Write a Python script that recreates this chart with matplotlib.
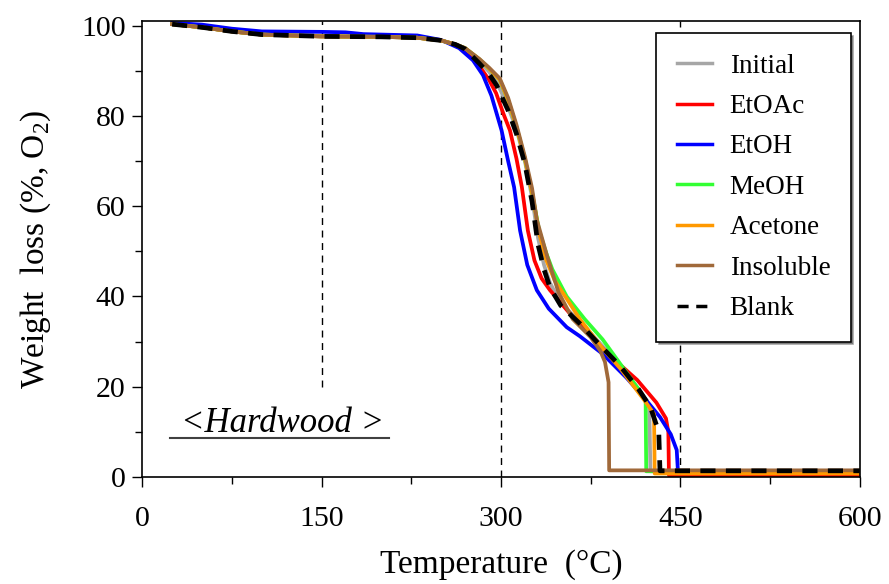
import numpy as np
import matplotlib
matplotlib.use('Agg')
import matplotlib.pyplot as plt

plt.rcParams['font.family'] = 'Liberation Serif'
plt.rcParams['mathtext.fontset'] = 'custom'
plt.rcParams['mathtext.rm'] = 'Liberation Serif'

# shared early part of the curves (drying stage)
x_start = [25, 50, 75, 100, 150, 200, 230, 250, 262]
y_start = [100.3, 99.6, 98.7, 98.0, 97.6, 97.5, 97.3, 96.7, 95.8]

# temperatures (C) and weight (%) per sample
x_initial = x_start + [270, 282, 290, 297, 306, 313, 320, 326, 331, 336, 341, 350, 366,
                       385, 400, 415, 424, 425, 600]
y_initial = y_start + [95.0, 92.0, 89.8, 87.2, 82.0, 77.0, 70.0, 62.0, 53.0, 47.0, 43.0,
                       38.5, 34.5, 29.0, 24.5, 19.5, 16.0, 1.3, 1.3]

x_etoac = x_start + [270, 282, 290, 296, 302, 307.5, 313, 317.5, 322.5, 328, 334, 341,
                     360, 385, 400, 414, 430, 438, 440, 440.5, 600]
y_etoac = y_start + [94.8, 91.0, 88.0, 85.0, 80.5, 76.8, 70.5, 64.2, 54.6, 48.0, 44.0,
                     41.4, 35.5, 28.5, 24.8, 21.5, 16.5, 13.0, 10.0, 0.4, 0.4]

x_etoh = [25, 50, 75, 100, 150, 170, 185, 230, 250, 265, 276.6, 285, 292, 300.5, 306, 311,
          316, 322, 330, 340, 355, 366, 385, 405, 420, 433, 442, 447, 448, 600]
y_etoh = [100.6, 100.2, 99.3, 98.7, 98.6, 98.5, 98.1, 97.8, 96.8, 95.0, 92.3, 89.0, 84.5,
          76.8, 70.0, 64.2, 54.6, 47.0, 41.4, 37.3, 33.2, 31.2, 27.3, 22.0, 17.5, 13.3,
          9.5, 6.0, 1.3, 1.3]

x_meoh = x_start + [270, 282, 290, 299, 306, 313, 320, 326, 332, 338, 343, 355, 370,
                    385, 400, 415, 421, 421.5, 600]
y_meoh = y_start + [95.0, 92.5, 90.5, 88.0, 83.5, 77.5, 70.5, 63.0, 54.5, 49.5, 46.0,
                    40.0, 35.0, 30.5, 25.0, 19.5, 17.0, 1.3, 1.3]

x_acetone = x_start + [270, 282, 290, 299, 306, 313, 320, 326, 332, 338, 345, 355, 366,
                       385, 400, 420, 428, 428.6, 600]
y_acetone = y_start + [95.0, 92.5, 90.5, 88.0, 83.5, 77.5, 70.5, 63.0, 54.0, 48.0, 43.5,
                       39.5, 35.0, 28.5, 24.0, 17.0, 14.0, 0.8, 0.8]

x_insoluble = x_start + [270, 282, 290, 299, 306, 313, 320, 326, 330, 338, 348, 360, 375,
                         383, 387, 390, 390.5, 440, 600]
y_insoluble = y_start + [95.0, 92.6, 90.7, 88.3, 84.0, 78.0, 71.0, 64.0, 57.0, 49.5, 41.0,
                         35.0, 31.0, 28.0, 25.5, 21.0, 1.5, 1.5, 1.5]

x_blank = x_start + [270, 282, 290, 296.5, 306, 313, 320, 326, 331, 336, 341, 350, 366,
                     380, 400, 415, 425, 432, 433, 600]
y_blank = y_start + [94.8, 91.6, 89.3, 86.7, 81.2, 76.0, 69.4, 61.0, 51.5, 46.0, 42.0,
                     38.0, 34.0, 30.0, 24.5, 19.5, 15.5, 10.0, 1.4, 1.4]

labels = ['Initial', 'EtOAc', 'EtOH', 'MeOH', 'Acetone', 'Insoluble', 'Blank']
colors = ['#a6a6a6', '#ff0000', '#0000ff', '#33ff33', '#ff9900', '#a0693a', 'black']

xs = [x_initial, x_etoac, x_etoh, x_meoh, x_acetone, x_insoluble, x_blank]
ys = [y_initial, y_etoac, y_etoh, y_meoh, y_acetone, y_insoluble, y_blank]

fig = plt.figure(figsize=(8.89, 5.84), dpi=100)
ax = fig.add_axes([0.16, 0.183, 0.807, 0.781])

# guide lines
ax.plot([150, 150], [20, 101], color='black', lw=1, ls=(0, (5, 4)), zorder=1)
ax.plot([300, 300], [0, 101], color='black', lw=1, ls=(0, (5, 4)), zorder=1)
ax.plot([450, 450], [0, 101], color='black', lw=1, ls=(0, (5, 4)), zorder=1)

for x, y, lab, c in zip(xs, ys, labels, colors):
    if lab == 'Blank':
        ax.plot(x, y, color=c, lw=3.4, ls=(0, (3.2, 2.2)), label=lab, zorder=3,
                solid_joinstyle='round')
    else:
        ax.plot(x, y, color=c, lw=2.7, label=lab, zorder=2, solid_joinstyle='round')

ax.set_xlim(0, 600)
ax.set_ylim(0, 101)
ax.set_xticks([0, 150, 300, 450, 600])
ax.set_xticks([75, 225, 375, 525], minor=True)
ax.set_yticks([0, 20, 40, 60, 80, 100])
ax.set_yticks([10, 30, 50, 70, 90], minor=True)
ax.tick_params(which='major', direction='out', length=7, width=1, labelsize=21.5)
ax.tick_params(which='minor', direction='out', length=5, width=1)
ax.tick_params(axis='x', pad=14)
ax.tick_params(axis='y', pad=5)
for s in ax.spines.values():
    s.set_linewidth(1.2)

ax.set_xlabel('Temperature  (\u00b0C)', fontsize=24, labelpad=12)
ax.set_ylabel('Weight  loss (%, O$_2$)', fontsize=24, labelpad=20)

ax.text(117, 9.9, '<Hardwood >', fontsize=25, style='italic', ha='center', va='baseline')
ax.plot([23, 206], [8.6, 8.6], color='#404040', lw=1.5)

leg = ax.legend(loc='upper right', bbox_to_anchor=(0.995, 0.985), fontsize=19.5,
                frameon=True, fancybox=False, shadow=True, edgecolor='black',
                handlelength=1.3, handletextpad=0.65, labelspacing=0.57,
                borderpad=0.75, borderaxespad=0.2)
leg.get_frame().set_linewidth(1.2)
for h in leg.get_lines():
    h.set_linewidth(2.5)
leg.set_zorder(5)

plt.savefig('out.png', dpi=100)
plt.close()
